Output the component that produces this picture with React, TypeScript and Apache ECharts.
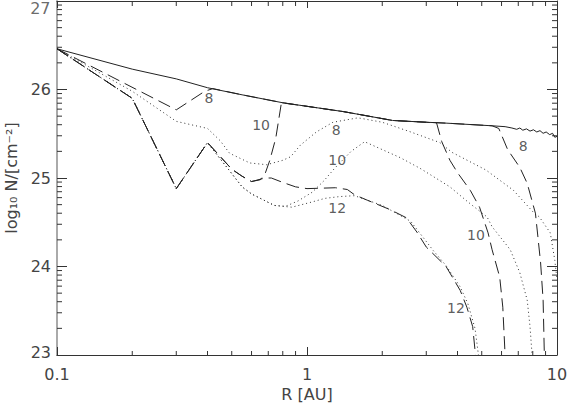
import React, { useEffect, useRef } from "react";
import * as echarts from "echarts";

// [R (AU), log10 N (cm^-2)]
const solid: number[][] = [
  [0.1, 26.46], [0.2, 26.23], [0.3, 26.12], [0.4, 26.02], [0.55, 25.94], [0.8, 25.85],
  [1.0, 25.81], [1.4, 25.75], [2.2, 25.65], [3.0, 25.63], [3.6, 25.62], [5.5, 25.59],
  [6.2, 25.58], [6.6, 25.565], [6.9, 25.55], [7.1, 25.565], [7.3, 25.54], [7.55, 25.555],
  [7.8, 25.53], [8.05, 25.545], [8.3, 25.52], [8.55, 25.535], [8.8, 25.505], [9.05, 25.52],
  [9.35, 25.49], [9.6, 25.505], [9.8, 25.46], [10, 25.47],
];
const dashed8: number[][] = [
  [0.1, 26.46], [0.3, 25.77], [0.39, 25.98], [0.42, 26.01], [0.55, 25.94], [0.8, 25.85],
  [1.0, 25.81], [1.4, 25.75], [2.2, 25.65], [3.0, 25.63], [3.6, 25.62], [5.5, 25.59],
  [5.85, 25.56], [6.35, 25.32], [7.1, 25.12], [7.6, 24.94], [8.2, 24.6], [8.6, 24.04],
  [8.8, 23.62], [8.9, 23.0],
];
const dashed10: number[][] = [
  [0.1, 26.46], [0.2, 25.9], [0.3, 24.88], [0.4, 25.4], [0.5, 25.1], [0.55, 25.02],
  [0.6, 24.96], [0.65, 24.98], [0.68, 25.05], [0.71, 25.2], [0.75, 25.45], [0.79, 25.85],
  [1.0, 25.81], [1.4, 25.75], [2.2, 25.65], [3.0, 25.63], [3.3, 25.62], [3.46, 25.41],
  [3.73, 25.2], [4.0, 25.06], [4.5, 24.86], [4.9, 24.67], [5.3, 24.38], [5.5, 24.19],
  [5.9, 23.88], [6.07, 23.54], [6.2, 23.0],
];
const dashed12: number[][] = [
  [0.1, 26.46], [0.2, 25.9], [0.3, 24.88], [0.4, 25.4], [0.5, 25.1], [0.55, 25.02],
  [0.6, 24.96], [0.68, 25.0], [0.72, 25.0], [0.8, 24.95], [0.9, 24.9], [1.0, 24.88],
  [1.3, 24.89], [1.45, 24.87], [1.55, 24.81], [1.74, 24.75], [2.16, 24.64], [2.5, 24.55],
  [2.75, 24.39], [3.0, 24.22], [3.6, 24.0], [4.1, 23.73], [4.36, 23.54], [4.6, 23.32],
  [4.72, 23.0],
];
const dotted8: number[][] = [
  [0.1, 26.46], [0.2, 25.98], [0.3, 25.64], [0.4, 25.56], [0.45, 25.42], [0.49, 25.28],
  [0.59, 25.17], [0.69, 25.15], [0.8, 25.2], [0.86, 25.24], [0.94, 25.37], [1.09, 25.52],
  [1.27, 25.63], [1.6, 25.68], [2.0, 25.63], [2.6, 25.52], [3.4, 25.4], [3.8, 25.29],
  [5.2, 25.09], [6.7, 24.86], [8.0, 24.62], [8.5, 24.56], [9.4, 24.38], [9.8, 24.07],
  [10, 23.85],
];
const dotted10: number[][] = [
  [0.1, 26.46], [0.2, 25.9], [0.3, 24.88], [0.4, 25.4], [0.5, 25.05], [0.55, 24.9],
  [0.6, 24.82], [0.74, 24.69], [0.82, 24.68], [0.92, 24.74], [1.05, 24.84], [1.17, 24.97],
  [1.29, 25.11], [1.5, 25.3], [1.7, 25.41], [2.36, 25.23], [2.83, 25.11], [3.73, 24.9],
  [4.4, 24.73], [5.25, 24.56], [5.5, 24.45], [6.5, 24.19], [7.1, 23.93], [7.6, 23.62],
  [7.8, 23.32], [7.95, 23.0],
];
const dotted12: number[][] = [
  [0.1, 26.46], [0.2, 25.9], [0.3, 24.88], [0.4, 25.4], [0.5, 25.05], [0.55, 24.9],
  [0.6, 24.82], [0.74, 24.69], [0.87, 24.67], [1.05, 24.73], [1.18, 24.77], [1.35, 24.79],
  [1.55, 24.8], [2.0, 24.69], [2.6, 24.51], [3.2, 24.18], [3.6, 24.01], [4.1, 23.77],
  [4.4, 23.58], [4.7, 23.3], [4.85, 23.0],
];

// contour-style labels: [R, log10 N, text]
const curveLabels: [number, number, string][] = [
  [0.405, 25.9, "8"],
  [0.655, 25.6, "10"],
  [1.31, 25.54, "8"],
  [1.32, 25.2, "10"],
  [1.32, 24.66, "12"],
  [7.32, 25.36, "8"],
  [4.74, 24.36, "10"],
  [3.94, 23.53, "12"],
];

const xMinorTicks = [0.2, 0.3, 0.4, 0.5, 0.6, 0.7, 0.8, 0.9, 2, 3, 4, 5, 6, 7, 8, 9];
const yDecades = [23, 24, 25, 26];
const yMinorMantissas = [2, 3, 4, 5, 6, 7, 8, 9];
const yTop = 27;
const yBottom = 23;
const xMin = 0.1;
const xMax = 10;

const FONT = "DejaVu Sans";
const INK = "#222";

export default function App() {
  const ref = useRef<HTMLDivElement>(null);

  useEffect(() => {
    document.body.style.margin = "0";
    if (!ref.current) return;
    const chart = echarts.init(ref.current, undefined, { renderer: "svg" });

    const yMinor: number[] = [];
    yDecades.forEach((k) => yMinorMantissas.forEach((m) => yMinor.push(k + Math.log10(m))));
    const tickData = [
      ...xMinorTicks.map((v) => [v, yBottom, 0]),
      ...yMinor.map((v) => [xMin, v, 1]),
    ];

    const lineSeries = (data: number[][], dash: number[] | "solid", color = INK) => ({
      type: "line",
      data,
      showSymbol: false,
      symbol: "none",
      xAxisIndex: 0,
      yAxisIndex: 0,
      lineStyle: { color, width: 1, type: dash },
      emphasis: { disabled: true },
    });

    const option: any = {
      animation: false,
      textStyle: { fontFamily: FONT },
      grid: { left: 57, right: 10, top: 1, bottom: 51, containLabel: false, outerBoundsMode: "none" },
      xAxis: [
        {
          type: "log",
          logBase: 10,
          min: xMin,
          max: xMax,
          position: "bottom",
          name: "R [AU]",
          nameLocation: "middle",
          nameGap: 23,
          nameTextStyle: { fontSize: 16, color: "#444", fontFamily: FONT },
          axisLine: { lineStyle: { color: "#333", width: 1 } },
          axisTick: { inside: true, length: 8, lineStyle: { color: "#333" } },
          axisLabel: { fontSize: 16, color: "#444", margin: 11, fontFamily: FONT },
          splitLine: { show: false },
        },
        {
          type: "log",
          logBase: 10,
          min: xMin,
          max: xMax,
          position: "top",
          axisLine: { lineStyle: { color: "#333", width: 1 } },
          axisTick: { inside: true, length: 7, lineStyle: { color: "#333" } },
          axisLabel: { show: false },
          splitLine: { show: false },
        },
      ],
      yAxis: [
        {
          type: "value",
          min: yBottom,
          max: yTop,
          interval: 1,
          position: "left",
          name: "log\u2081\u2080 N/[cm\u207B\u00B2]",
          nameLocation: "middle",
          nameGap: 38,
          nameTextStyle: { fontSize: 16, color: "#444", fontFamily: FONT },
          axisLine: { lineStyle: { color: "#aaa", width: 2 } },
          axisTick: { inside: true, length: 10, lineStyle: { color: "#333" } },
          axisLabel: {
            fontSize: 16,
            color: "#444",
            margin: 6,
            fontFamily: FONT,
            showMaxLabel: false,
            formatter: (v: number) => (v === yBottom ? `{b|${v}}` : String(v)),
            rich: {
              b: { fontSize: 16, color: "#444", fontFamily: FONT, padding: [0, 0, 6, 0] },
            },
          },
          splitLine: { show: false },
        },
        {
          type: "value",
          min: yBottom,
          max: yTop,
          interval: 1,
          position: "right",
          axisLine: { lineStyle: { color: "#333", width: 1 } },
          axisTick: { inside: true, length: 10, lineStyle: { color: "#333" } },
          axisLabel: { show: false },
          splitLine: { show: false },
        },
      ],
      series: [
        {
          type: "custom",
          xAxisIndex: 0,
          yAxisIndex: 0,
          data: tickData,
          clip: false,
          silent: true,
          encode: { x: 0, y: 1 },
          renderItem: (params: any, api: any) => {
            const kind = api.value(2);
            const st = { stroke: "#333", lineWidth: 1 };
            if (kind === 0) {
              const x = api.value(0);
              const b = api.coord([x, yBottom]);
              const t = api.coord([x, yTop]);
              return {
                type: "group",
                children: [
                  { type: "line", shape: { x1: b[0], y1: b[1], x2: b[0], y2: b[1] - 4 }, style: st },
                  { type: "line", shape: { x1: t[0], y1: t[1], x2: t[0], y2: t[1] + 5 }, style: st },
                ],
              };
            }
            const y = api.value(1);
            const l = api.coord([xMin, y]);
            const r = api.coord([xMax, y]);
            return {
              type: "group",
              children: [
                { type: "line", shape: { x1: l[0], y1: l[1], x2: l[0] + 5, y2: l[1] }, style: st },
                { type: "line", shape: { x1: r[0], y1: r[1], x2: r[0] - 5, y2: r[1] }, style: st },
              ],
            };
          },
        },
        lineSeries(dotted8, [1, 3], "#333"),
        lineSeries(dotted10, [1, 3], "#333"),
        lineSeries(dotted12, [1, 3], "#333"),
        lineSeries(dashed8, [13, 6]),
        lineSeries(dashed10, [13, 6]),
        lineSeries(dashed12, [13, 6]),
        lineSeries(solid, "solid"),
        {
          type: "scatter",
          xAxisIndex: 0,
          yAxisIndex: 0,
          symbolSize: 1,
          itemStyle: { color: "rgba(0,0,0,0)" },
          silent: true,
          data: curveLabels.map(([r, v, t]) => ({ value: [r, v], name: t })),
          label: {
            show: true,
            position: "inside",
            formatter: "{b}",
            fontSize: 14,
            color: "#333",
            fontFamily: FONT,
          },
        },
        {
          // top tick label of the y axis, aligned below the frame corner
          type: "scatter",
          xAxisIndex: 0,
          yAxisIndex: 0,
          symbolSize: 1,
          clip: false,
          itemStyle: { color: "rgba(0,0,0,0)" },
          silent: true,
          data: [{ value: [xMin, yTop], name: String(yTop) }],
          label: {
            show: true,
            position: "left",
            distance: 6,
            verticalAlign: "top",
            lineHeight: 16,
            offset: [0, -1],
            formatter: "{b}",
            fontSize: 16,
            color: "#444",
            fontFamily: FONT,
          },
        },
      ],
    };

    chart.setOption(option);
    return () => chart.dispose();
  }, []);

  return (
    <div
      ref={ref}
      style={{ position: "fixed", left: 0, top: 0, width: 567, height: 406, background: "#fff" }}
    />
  );
}
